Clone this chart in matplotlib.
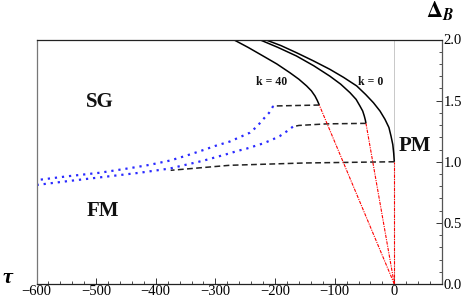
import numpy as np
import matplotlib
matplotlib.use("Agg")
import matplotlib.pyplot as plt
from matplotlib.ticker import MultipleLocator, FuncFormatter

plt.rcParams['font.family'] = ['Liberation Serif', 'DejaVu Serif']
plt.rcParams['mathtext.fontset'] = 'stix'

# ---- data ----
# solid SG/PM boundaries (tau, Delta_B)
k0_tau = [-217, -190, -164, -136, -108, -85, -63, -48, -35, -24, -15.6, -9, -5.5, -2.5, -1, 0]
k0_d   = [2.0, 1.95, 1.892, 1.826, 1.756, 1.69, 1.62, 1.55, 1.483, 1.415, 1.347, 1.28, 1.21, 1.14, 1.07, 1.0]
kmid_tau = [-226.5, -195, -164, -135, -108, -90, -74.3, -64, -57.6, -53, -50.3, -48.5, -47.5]
kmid_d   = [2.0, 1.935, 1.865, 1.785, 1.70, 1.635, 1.565, 1.51, 1.456, 1.415, 1.374, 1.34, 1.314]
k40_tau = [-270, -245, -220, -197, -175, -160, -147, -139, -133, -129, -125.8]
k40_d   = [2.0, 1.935, 1.865, 1.80, 1.728, 1.675, 1.62, 1.58, 1.538, 1.50, 1.464]

# dashed lines
dash_k40_tau = [-125.8, -203]
dash_k40_d   = [1.464, 1.456]
dash_kmid_tau = [-47.5, -113, -160, -170]
dash_kmid_d   = [1.314, 1.31, 1.297, 1.287]
dash_k0_tau = [0, -150, -276, -375]
dash_k0_d   = [1.0, 0.99, 0.971, 0.93]

# blue dotted lines
blue_k40_tau = [-203, -210, -220, -230, -242, -262, -276, -300, -320, -350, -376, -410, -443, -494, -550, -591, -600]
blue_k40_d   = [1.456, 1.40, 1.347, 1.29, 1.238, 1.195, 1.165, 1.13, 1.096, 1.048, 1.01, 0.975, 0.948, 0.91, 0.88, 0.855, 0.85]
blue_kmid_tau = [-170, -180, -192, -205, -220, -248, -262, -276, -320, -376, -427, -494, -550, -600]
blue_kmid_d   = [1.287, 1.25, 1.21, 1.18, 1.15, 1.107, 1.09, 1.069, 1.009, 0.945, 0.91, 0.872, 0.84, 0.81]

# red dash-dot lines from origin
red_end_tau = [-125.8, -47.5, 0]
red_end_d   = [1.464, 1.314, 1.0]

xticks = [-600, -500, -400, -300, -200, -100, 0]
yticks = [0.0, 0.5, 1.0, 1.5, 2.0]

fig = plt.figure(figsize=(4.63, 3.0), dpi=100)
ax = fig.add_axes([36.5/463, 1-284/300, (442-36.5)/463, (284-39.5)/300])
ax.set_xlim(-600, 80)
ax.set_ylim(0, 2.0)

ax.axvline(0, color='#c8c8c8', lw=0.7, zorder=0)

for t, d in [(k0_tau, k0_d), (kmid_tau, kmid_d), (k40_tau, k40_d)]:
    ax.plot(t, d, color='black', lw=1.1, solid_capstyle='butt', solid_joinstyle='round')
for t, d in [(dash_k40_tau, dash_k40_d), (dash_kmid_tau, dash_kmid_d), (dash_k0_tau, dash_k0_d)]:
    ax.plot(t, d, color='#222222', lw=1.1, dashes=(3.8, 2.2))
for t, d in [(blue_k40_tau, blue_k40_d), (blue_kmid_tau, blue_kmid_d)]:
    ax.plot(t, d, color='#2a2aff', lw=1.6, linestyle=(0, (1, 2.2)))
for t, d in zip(red_end_tau, red_end_d):
    ax.plot([0, t], [0, d], color='red', lw=0.8, linestyle=(0, (3, 1, 1, 1)))

ax.yaxis.tick_right()
ax.set_xticks(xticks)
ax.set_yticks(yticks)
ax.xaxis.set_minor_locator(MultipleLocator(20))
ax.yaxis.set_minor_locator(MultipleLocator(0.1))
ax.xaxis.set_major_formatter(FuncFormatter(lambda v, p: f"{int(v)}".replace('-', '\u2212')))
ax.yaxis.set_major_formatter(FuncFormatter(lambda v, p: f"{v:.1f}"))
ax.tick_params(axis='both', which='both', direction='in', labelsize=10.5, colors='#333333')
ax.tick_params(axis='x', which='major', length=4, width=0.7, pad=0.5)
ax.tick_params(axis='x', which='minor', length=2, width=0.6)
ax.tick_params(axis='y', which='major', length=4, width=0.7, pad=1)
ax.tick_params(axis='y', which='minor', length=2, width=0.6)
for lab in ax.get_xticklabels() + ax.get_yticklabels():
    lab.set_color('black')

ax.spines['left'].set_color('#777777')
ax.spines['right'].set_color('#555555')
ax.spines['top'].set_color('#222222')
ax.spines['bottom'].set_color('#222222')
for s in ax.spines.values():
    s.set_linewidth(0.9)

bold = dict(fontweight='bold', color='#111111')
ax.text(-494, 1.49, 'SG', fontsize=15, ha='center', va='center', **bold)
ax.text(-489, 0.6, 'FM', fontsize=15, ha='center', va='center', **bold)
ax.text(35, 1.13, 'PM', fontsize=15, ha='center', va='center', **bold)
ax.text(-206, 1.652, 'k = 40', fontsize=8.5, ha='center', va='center', **bold)
ax.text(-40, 1.652, 'k = 0', fontsize=8.5, ha='center', va='center', **bold)

fig.text(440/463, 1-11/300, r'$\mathbf{\Delta}_{\mathbfit{B}}$', fontsize=16,
         ha='center', va='center')
fig.text(7/463, 1-278/300, '\u03c4', fontsize=16, fontweight='bold', fontstyle='italic',
         ha='center', va='center')

fig.savefig('out.png', dpi=100)
